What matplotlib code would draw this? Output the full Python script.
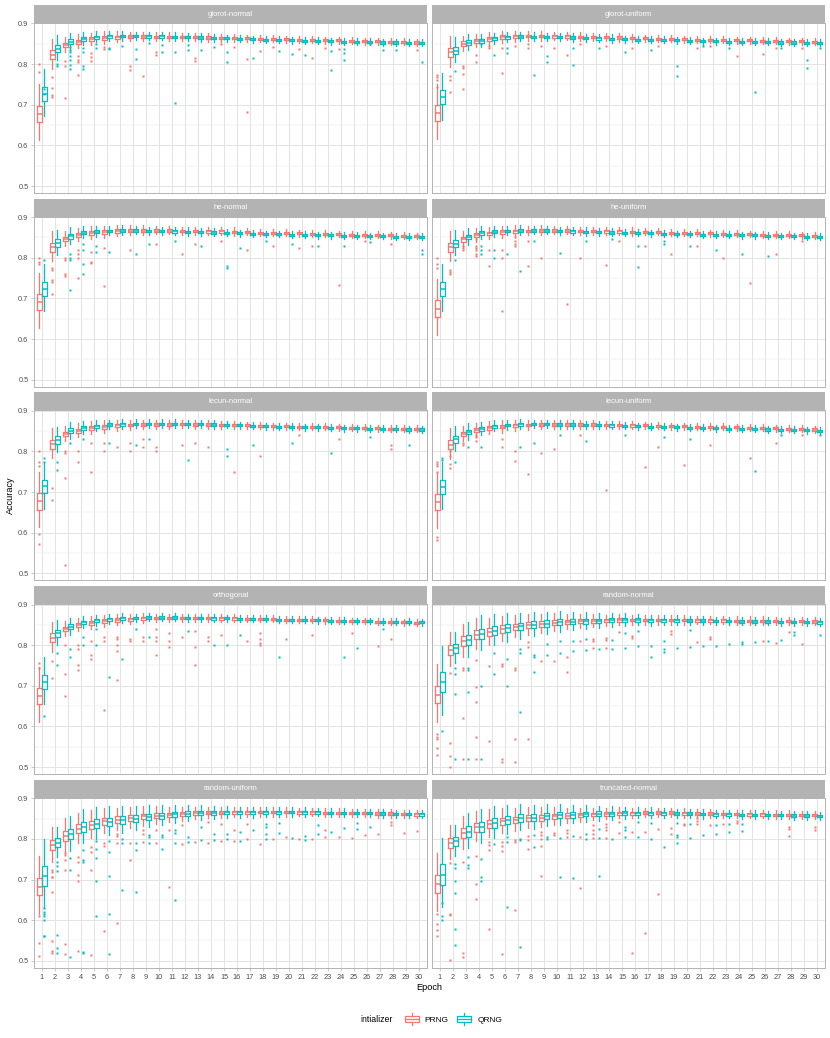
import matplotlib.pyplot as plt
from matplotlib.patches import Patch, Rectangle
from matplotlib.lines import Line2D
from matplotlib.legend_handler import HandlerBase

plt.rcParams['font.family'] = ['Liberation Sans', 'DejaVu Sans']

epochs = list(range(1, 31))
facets = ['glorot-normal', 'glorot-uniform', 'he-normal', 'he-uniform',
          'lecun-normal', 'lecun-uniform', 'orthogonal', 'random-normal',
          'random-uniform', 'truncated-normal']
groups = ['PRNG', 'QRNG']
colors = ['#F8766D', '#00BFC4']

# medians per epoch
glorot_normal_prng = [.678, .823, .847, .855, .861, .864, .866, .867, .867, .867, .867, .866, .866, .865, .864,
                      .864, .863, .862, .862, .861, .860, .859, .858, .858, .857, .856, .856, .855, .854, .853]
glorot_normal_qrng = [.727, .838, .855, .862, .866, .868, .869, .869, .868, .868, .867, .866, .865, .864, .863,
                      .862, .861, .860, .859, .858, .857, .857, .856, .855, .855, .854, .853, .853, .852, .852]
glorot_uniform_prng = [.679, .829, .850, .857, .862, .866, .868, .869, .869, .868, .868, .867, .866, .866, .865,
                       .864, .863, .862, .862, .861, .860, .860, .859, .858, .858, .857, .857, .856, .856, .855]
glorot_uniform_qrng = [.718, .833, .853, .857, .863, .866, .867, .867, .866, .866, .865, .864, .863, .862, .861,
                       .860, .859, .859, .858, .857, .856, .856, .855, .855, .854, .854, .853, .853, .852, .852]
he_normal_prng = [.691, .826, .846, .856, .861, .863, .866, .867, .867, .867, .867, .866, .866, .865, .865,
                  .864, .863, .862, .862, .861, .860, .859, .859, .858, .857, .857, .856, .855, .854, .853]
he_normal_qrng = [.724, .836, .853, .862, .864, .866, .867, .867, .866, .866, .865, .864, .863, .862, .861,
                  .860, .859, .858, .858, .857, .856, .855, .855, .854, .854, .853, .853, .852, .852, .851]
he_uniform_prng = [.675, .826, .845, .855, .860, .863, .865, .866, .867, .867, .867, .866, .866, .865, .865,
                   .864, .863, .863, .862, .861, .861, .860, .859, .859, .858, .857, .857, .856, .855, .854]
he_uniform_qrng = [.724, .835, .851, .861, .864, .866, .867, .867, .867, .866, .865, .864, .863, .862, .861,
                   .861, .860, .859, .858, .858, .857, .856, .856, .855, .855, .854, .853, .853, .852, .852]
lecun_normal_prng = [.677, .818, .843, .851, .858, .860, .864, .865, .866, .866, .866, .867, .866, .866, .865,
                     .865, .864, .863, .862, .862, .861, .860, .860, .859, .858, .858, .857, .856, .856, .855]
lecun_normal_qrng = [.714, .828, .851, .858, .862, .866, .867, .868, .868, .868, .868, .867, .867, .866, .865,
                     .864, .863, .862, .861, .860, .859, .859, .858, .857, .857, .856, .855, .855, .854, .854]
lecun_uniform_prng = [.675, .817, .843, .852, .858, .861, .864, .865, .866, .866, .866, .866, .866, .865, .865,
                      .864, .864, .863, .862, .862, .861, .860, .860, .859, .858, .858, .857, .856, .855, .854]
lecun_uniform_qrng = [.713, .830, .848, .856, .862, .865, .867, .867, .867, .866, .866, .865, .865, .864, .863,
                      .862, .861, .860, .859, .858, .858, .857, .856, .855, .855, .854, .853, .853, .852, .851]
orthogonal_prng = [.675, .818, .840, .850, .855, .859, .862, .864, .866, .867, .867, .867, .867, .867, .866,
                   .866, .865, .865, .864, .863, .863, .862, .861, .860, .859, .859, .858, .857, .856, .855]
orthogonal_qrng = [.709, .829, .845, .856, .861, .864, .866, .867, .868, .868, .868, .867, .867, .866, .866,
                   .865, .865, .864, .863, .863, .862, .861, .860, .860, .859, .859, .858, .857, .857, .856]
random_normal_prng = [.678, .788, .810, .826, .832, .840, .845, .849, .852, .855, .857, .859, .860, .861, .862,
                      .862, .862, .862, .862, .862, .861, .861, .861, .860, .860, .860, .859, .859, .859, .858]
random_normal_qrng = [.709, .792, .812, .828, .836, .842, .846, .850, .853, .856, .858, .859, .860, .861, .862,
                      .862, .861, .861, .861, .860, .860, .859, .859, .858, .858, .858, .857, .857, .857, .856]
random_uniform_prng = [.682, .784, .807, .825, .834, .843, .847, .851, .855, .857, .859, .861, .863, .864, .864,
                       .865, .865, .866, .866, .866, .865, .865, .864, .864, .863, .863, .862, .862, .861, .860]
random_uniform_qrng = [.709, .790, .811, .829, .837, .842, .846, .850, .854, .857, .860, .862, .864, .864, .865,
                       .865, .865, .865, .865, .866, .865, .865, .864, .864, .863, .863, .862, .861, .861, .860]
truncated_normal_prng = [.689, .790, .814, .829, .837, .843, .846, .851, .852, .855, .857, .858, .860, .861, .863,
                         .863, .864, .864, .864, .863, .862, .862, .861, .861, .860, .860, .859, .859, .858, .858]
truncated_normal_qrng = [.712, .794, .818, .829, .839, .846, .851, .852, .856, .858, .859, .861, .862, .862, .863,
                         .863, .863, .863, .862, .862, .861, .860, .860, .859, .859, .858, .858, .857, .857, .856]

# box heights (interquartile range) per epoch
fast_prng_iqr = [.040, .022, .011, .010, .009, .009, .008, .007, .007, .006, .006, .006, .006, .006, .006,
                 .006, .005, .005, .005, .005, .005, .005, .005, .005, .005, .005, .005, .005, .005, .005]
fast_qrng_iqr = [.034, .018, .012, .009, .008, .007, .007, .006, .006, .006, .006, .006, .006, .006, .005,
                 .005, .005, .005, .005, .005, .005, .005, .005, .005, .005, .005, .005, .005, .005, .005]
slow_prng_iqr = [.042, .025, .024, .022, .020, .018, .016, .015, .014, .013, .011, .010, .009, .008, .008,
                 .007, .007, .007, .007, .007, .006, .006, .006, .006, .006, .006, .006, .006, .006, .006]
slow_qrng_iqr = [.050, .022, .025, .025, .023, .021, .019, .017, .016, .015, .013, .012, .011, .010, .009,
                 .008, .008, .007, .007, .007, .007, .006, .006, .006, .006, .006, .006, .006, .006, .006]

# outliers as (epoch, accuracy)
glorot_normal_prng_out = [(1, .80), (1, .78), (2, .767), (2, .741), (2, .725), (2, .719), (3, .808), (3, .796),
                          (3, .717), (4, .82), (4, .81), (4, .806), (4, .774), (5, .826), (5, .818), (5, .808),
                          (6, .843), (6, .836), (8, .796), (8, .785), (9, .771), (10, .83), (10, .822), (13, .814),
                          (13, .808), (15, .85), (16, .841), (17, .812), (17, .683), (18, .832), (19, .843),
                          (21, .838), (22, .816), (23, .84), (24, .836), (30, .834)]
glorot_normal_qrng_out = [(1, .738), (1, .727), (2, .801), (2, .796), (3, .842), (3, .835), (3, .83), (3, .82),
                          (3, .81), (3, .798), (3, .789), (4, .84), (4, .83), (4, .795), (4, .789), (5, .85),
                          (5, .84), (6, .84), (6, .836), (7, .844), (8, .838), (8, .813), (9, .852), (10, .847),
                          (10, .83), (11, .83), (11, .705), (12, .847), (12, .835), (13, .835), (14, .843),
                          (15, .83), (15, .806), (17, .815), (19, .831), (20, .825), (21, .822), (23, .831),
                          (23, .785), (24, .836), (24, .826), (24, .81), (26, .85), (27, .834), (28, .834),
                          (30, .806)]
glorot_uniform_prng_out = [(1, .773), (1, .767), (1, .761), (1, .743), (2, .771), (2, .761), (2, .732),
                           (3, .794), (3, .79), (3, .776), (3, .738), (4, .822), (4, .806), (5, .845), (5, .84),
                           (6, .777), (6, .84), (7, .845), (8, .85), (8, .84), (9, .845), (10, .84), (11, .822),
                           (12, .85), (14, .845), (16, .84), (18, .845), (21, .84), (22, .845), (24, .82),
                           (26, .825), (27, .84), (29, .84)]
glorot_uniform_qrng_out = [(2, .784), (4, .85), (5, .822), (6, .826), (6, .84), (8, .772), (9, .821), (9, .806),
                           (11, .797), (11, .84), (13, .84), (15, .83), (17, .835), (19, .795), (19, .771),
                           (21, .845), (23, .84), (25, .732), (27, .84), (29, .79), (29, .81), (30, .84)]
he_normal_prng_out = [(1, .80), (1, .79), (1, .785), (2, .775), (2, .77), (2, .745), (2, .74), (2, .71),
                      (3, .80), (3, .795), (3, .76), (3, .755), (4, .82), (4, .81), (4, .80), (4, .75), (5, .815),
                      (5, .79), (5, .788), (6, .825), (6, .73), (8, .82), (10, .835), (12, .81), (13, .835),
                      (15, .84), (17, .82), (19, .83), (21, .825), (22, .83), (24, .733), (26, .84), (28, .835)]
he_normal_qrng_out = [(1, .795), (3, .81), (3, .80), (3, .795), (3, .72), (4, .835), (4, .82), (4, .785),
                      (4, .76), (5, .83), (5, .815), (6, .815), (8, .81), (9, .835), (11, .84), (13, .83),
                      (15, .78), (15, .775), (16, .825), (18, .84), (20, .835), (22, .83), (24, .828),
                      (26, .838), (30, .82), (30, .81)]
he_uniform_prng_out = [(1, .80), (1, .785), (1, .775), (2, .77), (2, .765), (2, .76), (3, .83), (3, .825),
                       (3, .82), (4, .845), (4, .83), (4, .825), (4, .82), (4, .81), (4, .805), (5, .82),
                       (5, .78), (6, .82), (6, .80), (6, .669), (7, .85), (7, .84), (7, .835), (7, .83),
                       (8, .84), (8, .78), (9, .80), (11, .687), (12, .80), (14, .781), (15, .84), (17, .83),
                       (19, .81), (21, .83), (23, .80), (25, .737), (27, .81), (29, .84)]
he_uniform_qrng_out = [(2, .794), (4, .83), (4, .82), (4, .81), (5, .82), (5, .80), (6, .81), (7, .767),
                       (8, .84), (10, .812), (12, .84), (14, .845), (16, .777), (16, .83), (18, .84), (18, .835),
                       (20, .83), (22, .82), (24, .81), (26, .805)]
lecun_normal_prng_out = [(1, .80), (1, .775), (1, .765), (1, .597), (1, .572), (2, .71), (2, .68), (3, .80),
                         (3, .795), (3, .735), (3, .52), (4, .802), (4, .775), (5, .82), (5, .75), (6, .82),
                         (6, .80), (7, .81), (8, .82), (8, .80), (9, .83), (9, .81), (10, .81), (10, .80),
                         (12, .815), (13, .82), (14, .81), (16, .75), (18, .79), (21, .84), (24, .83),
                         (28, .815), (28, .805)]
lecun_normal_qrng_out = [(1, .785), (1, .775), (2, .775), (2, .755), (3, .82), (4, .83), (6, .82), (8, .815),
                         (9, .83), (12, .78), (15, .805), (15, .79), (17, .815), (20, .82), (23, .795),
                         (26, .835), (29, .815)]
lecun_uniform_prng_out = [(1, .775), (1, .77), (1, .765), (1, .75), (1, .589), (1, .583), (2, .80), (2, .79),
                          (2, .77), (2, .76), (3, .82), (3, .815), (4, .84), (4, .835), (4, .825), (6, .83),
                          (6, .81), (7, .80), (7, .776), (8, .745), (9, .796), (10, .806), (12, .84), (14, .705),
                          (17, .761), (18, .81), (20, .767), (22, .815), (25, .784), (27, .82), (29, .84)]
lecun_uniform_qrng_out = [(1, .785), (1, .78), (2, .773), (3, .81), (4, .81), (7, .81), (8, .82), (10, .84),
                          (12, .825), (15, .84), (18, .835), (20, .83), (25, .753), (27, .84), (30, .84)]
orthogonal_prng_out = [(1, .755), (1, .745), (2, .76), (2, .72), (3, .80), (3, .73), (3, .675), (4, .80),
                       (4, .79), (4, .75), (4, .74), (5, .81), (5, .775), (5, .765), (6, .82), (6, .81), (6, .641),
                       (7, .82), (7, .815), (7, .80), (7, .785), (7, .715), (8, .815), (8, .81), (9, .82), (9, .81),
                       (10, .84), (10, .82), (10, .81), (10, .775), (11, .83), (11, .81), (11, .795), (12, .82),
                       (13, .835), (13, .795), (13, .75), (14, .82), (14, .81), (15, .825), (17, .81),
                       (18, .83), (18, .815), (18, .805), (18, .80), (20, .815), (22, .825), (25, .83),
                       (27, .797), (28, .814)]
orthogonal_qrng_out = [(1, .625), (2, .78), (2, .75), (3, .79), (3, .77), (4, .82), (4, .80), (5, .84), (5, .80),
                       (6, .722), (7, .765), (8, .84), (9, .82), (12, .835), (14, .80), (15, .80), (16, .825),
                       (19, .771), (24, .772), (25, .793), (27, .84)]
random_normal_prng_out = [(1, .581), (1, .575), (1, .568), (1, .548), (1, .531), (2, .732), (2, .56), (2, .528),
                          (2, .501), (3, .745), (3, .74), (3, .621), (3, .519), (4, .763), (4, .697), (4, .66),
                          (4, .575), (4, .519), (5, .748), (5, .564), (6, .754), (6, .748), (6, .521), (6, .513),
                          (7, .745), (7, .74), (7, .569), (7, .513), (8, .808), (8, .795), (8, .568), (9, .761),
                          (10, .761), (11, .772), (11, .733), (12, .809), (13, .816), (13, .809), (13, .793),
                          (14, .818), (14, .813), (14, .793), (15, .832), (16, .822), (16, .817), (19, .834),
                          (19, .828), (21, .808), (22, .82), (22, .816), (26, .809), (27, .805), (28, .832),
                          (29, .803)]
random_normal_qrng_out = [(1, .589), (2, .745), (2, .73), (2, .679), (2, .519), (3, .745), (3, .738), (3, .685),
                          (3, .519), (4, .70), (4, .519), (5, .78), (5, .73), (6, .765), (6, .70), (7, .791),
                          (7, .78), (7, .636), (8, .777), (8, .772), (8, .734), (9, .803), (9, .777), (10, .809),
                          (10, .78), (11, .809), (11, .785), (12, .816), (12, .787), (13, .79), (14, .813),
                          (14, .79), (15, .83), (15, .793), (16, .835), (16, .797), (17, .797), (17, .771),
                          (18, .81), (18, .79), (18, .783), (19, .793), (20, .838), (20, .795), (21, .797),
                          (22, .798), (23, .802), (24, .808), (24, .804), (25, .808), (26, .81), (27, .812),
                          (28, .832), (28, .824), (30, .826)]
random_uniform_prng_out = [(1, .609), (1, .543), (1, .513), (2, .724), (2, .719), (2, .707), (2, .705), (2, .67),
                           (2, .549), (2, .523), (2, .52), (3, .765), (3, .76), (3, .747), (3, .724), (3, .541),
                           (3, .516), (4, .756), (4, .743), (4, .712), (4, .697), (4, .525), (5, .78), (5, .768),
                           (5, .723), (5, .515), (6, .79), (6, .782), (6, .574), (7, .813), (7, .806), (7, .79),
                           (7, .594), (8, .79), (8, .747), (9, .821), (9, .813), (9, .792), (10, .821), (10, .79),
                           (11, .821), (11, .682), (12, .835), (12, .788), (13, .792), (14, .841), (14, .79),
                           (15, .837), (15, .795), (16, .822), (16, .795), (17, .837), (17, .799), (18, .788),
                           (19, .80), (20, .805), (21, .80), (22, .80), (23, .822), (23, .805), (24, .805),
                           (25, .803), (26, .809), (27, .813), (28, .841), (28, .833), (29, .815), (30, .82)]
random_uniform_qrng_out = [(1, .63), (1, .62), (1, .615), (1, .61), (1, .60), (1, .562), (1, .56), (2, .743),
                           (2, .733), (2, .721), (2, .564), (2, .531), (2, .52), (3, .754), (3, .723), (3, .51),
                           (4, .772), (4, .747), (4, .743), (4, .521), (4, .519), (5, .794), (5, .776), (5, .753),
                           (5, .697), (5, .61), (6, .794), (6, .768), (6, .709), (6, .615), (6, .517), (7, .80),
                           (7, .79), (7, .674), (8, .79), (8, .772), (8, .67), (9, .81), (9, .805), (9, .79),
                           (10, .81), (10, .805), (10, .776), (11, .821), (11, .814), (11, .79), (11, .649),
                           (12, .805), (12, .792), (13, .829), (13, .796), (14, .811), (14, .798), (15, .811),
                           (15, .80), (16, .816), (16, .795), (17, .821), (18, .837), (18, .829), (18, .811),
                           (18, .80), (19, .839), (19, .814), (20, .802), (21, .808), (21, .796), (22, .835),
                           (22, .813), (23, .817), (24, .827), (25, .839), (25, .825), (26, .828)]
truncated_normal_prng_out = [(1, .614), (1, .59), (1, .576), (1, .561), (2, .741), (2, .615), (2, .613),
                             (2, .502), (3, .743), (3, .52), (3, .509), (4, .757), (4, .69), (4, .653), (5, .792),
                             (5, .784), (5, .773), (5, .578), (6, .792), (6, .782), (6, .769), (6, .517), (7, .796),
                             (7, .792), (7, .625), (8, .806), (8, .798), (8, .776), (9, .817), (9, .809), (9, .80),
                             (9, .782), (9, .708), (10, .814), (10, .809), (11, .822), (11, .814), (11, .804),
                             (12, .804), (12, .678), (13, .835), (13, .821), (13, .811), (13, .803), (14, .837),
                             (14, .829), (14, .821), (14, .803), (15, .841), (15, .814), (16, .817), (16, .519),
                             (17, .817), (17, .569), (18, .825), (18, .664), (19, .827), (19, .811), (20, .837),
                             (20, .833), (21, .851), (21, .845), (21, .837), (22, .835), (23, .837), (24, .845),
                             (24, .839), (28, .829), (28, .825), (28, .806), (30, .829), (30, .822)]
truncated_normal_qrng_out = [(1, .643), (1, .609), (1, .60), (2, .739), (2, .729), (2, .697), (2, .666),
                             (2, .578), (2, .538), (3, .755), (3, .735), (3, .729), (4, .75), (4, .706), (4, .697),
                             (5, .788), (6, .804), (6, .792), (6, .633), (7, .80), (7, .796), (7, .533), (8, .81),
                             (8, .78), (9, .804), (9, .80), (10, .803), (10, .706), (11, .807), (11, .704),
                             (12, .811), (12, .80), (13, .825), (13, .803), (13, .709), (14, .80), (15, .829),
                             (15, .822), (15, .804), (16, .841), (16, .804), (17, .839), (17, .799), (18, .78),
                             (19, .839), (19, .809), (19, .804), (19, .79), (20, .837), (20, .803), (21, .809),
                             (22, .835), (22, .813), (23, .837), (23, .817), (24, .837), (24, .819)]

prng_medians = [glorot_normal_prng, glorot_uniform_prng, he_normal_prng, he_uniform_prng, lecun_normal_prng,
                lecun_uniform_prng, orthogonal_prng, random_normal_prng, random_uniform_prng, truncated_normal_prng]
qrng_medians = [glorot_normal_qrng, glorot_uniform_qrng, he_normal_qrng, he_uniform_qrng, lecun_normal_qrng,
                lecun_uniform_qrng, orthogonal_qrng, random_normal_qrng, random_uniform_qrng, truncated_normal_qrng]
prng_outliers = [glorot_normal_prng_out, glorot_uniform_prng_out, he_normal_prng_out, he_uniform_prng_out,
                 lecun_normal_prng_out, lecun_uniform_prng_out, orthogonal_prng_out, random_normal_prng_out,
                 random_uniform_prng_out, truncated_normal_prng_out]
qrng_outliers = [glorot_normal_qrng_out, glorot_uniform_qrng_out, he_normal_qrng_out, he_uniform_qrng_out,
                 lecun_normal_qrng_out, lecun_uniform_qrng_out, orthogonal_qrng_out, random_normal_qrng_out,
                 random_uniform_qrng_out, truncated_normal_qrng_out]
slow_facets = ['random-normal', 'random-uniform', 'truncated-normal']


def box_stats(med, iqr, out):
    stats = []
    for e, m, w in zip(epochs, med, iqr):
        q1, q3 = m - w / 2, m + w / 2
        stats.append(dict(med=m, q1=q1, q3=q3, whislo=q1 - 1.1 * w, whishi=q3 + 1.3 * w,
                          fliers=[v for ep, v in out if ep == e]))
    return stats


class BoxKey(HandlerBase):
    def create_artists(self, legend, orig_handle, xd, yd, width, height, fontsize, trans):
        c = orig_handle.get_edgecolor()
        x0, y0 = -xd, -yd
        box = Rectangle((x0 + 0.05 * width, y0 + 0.15 * height), 0.9 * width, 0.7 * height,
                        fill=False, ec=c, lw=0.9, transform=trans)
        mid = Line2D([x0 + 0.05 * width, x0 + 0.95 * width], [y0 + 0.5 * height] * 2, color=c, lw=0.9,
                     transform=trans)
        w1 = Line2D([x0 + 0.5 * width] * 2, [y0 - 0.1 * height, y0 + 0.15 * height], color=c, lw=0.9,
                    transform=trans)
        w2 = Line2D([x0 + 0.5 * width] * 2, [y0 + 0.85 * height, y0 + 1.1 * height], color=c, lw=0.9,
                    transform=trans)
        return [box, mid, w1, w2]


W, H = 830, 1038
fig = plt.figure(figsize=(W / 100, H / 100), dpi=100)

for i, name in enumerate(facets):
    r, c = divmod(i, 2)
    left = 34 if c == 0 else 432
    top = 23 + r * 193.7
    ax = fig.add_axes([left / W, 1 - (top + 170) / H, 393 / W, 170 / H])
    strip = fig.add_axes([left / W, 1 - top / H, 393 / W, 18 / H])
    strip.set_facecolor('#B3B3B3')
    strip.set_xticks([])
    strip.set_yticks([])
    for s in strip.spines.values():
        s.set_visible(False)
    strip.text(0.5, 0.5, name, color='white', fontsize=5.5, ha='center', va='center',
               transform=strip.transAxes)

    slow = name in slow_facets
    iqrs = [slow_prng_iqr, slow_qrng_iqr] if slow else [fast_prng_iqr, fast_qrng_iqr]
    meds = [prng_medians[i], qrng_medians[i]]
    outs = [prng_outliers[i], qrng_outliers[i]]
    for g, off in enumerate([-0.2, 0.2]):
        col = colors[g]
        ax.bxp(box_stats(meds[g], iqrs[g], outs[g]), positions=[e + off for e in epochs], widths=0.38,
               showcaps=False, manage_ticks=False,
               boxprops=dict(color=col, lw=0.9), whiskerprops=dict(color=col, lw=0.9),
               medianprops=dict(color=col, lw=1.1),
               flierprops=dict(marker='s', ms=1.5, mfc=col, mec='none'))

    ax.set_xlim(0.4, 30.6)
    ax.set_ylim(0.4828, 0.901)
    ax.set_xticks(epochs)
    ax.set_yticks([0.5, 0.6, 0.7, 0.8, 0.9])
    ax.set_yticks([0.55, 0.65, 0.75, 0.85], minor=True)
    ax.grid(True, which='major', color='#DEDEDE', lw=0.6)
    ax.grid(True, which='minor', axis='y', color='#E8E8E8', lw=0.35)
    ax.set_axisbelow(True)
    for s in ax.spines.values():
        s.set_color('#B3B3B3')
        s.set_linewidth(0.7)
    ax.tick_params(which='both', length=0, labelsize=5.3, labelcolor='#4D4D4D')
    ax.tick_params(axis='x', pad=2.5)
    ax.tick_params(axis='y', pad=2)
    if c == 0:
        ax.tick_params(axis='y', length=2, width=0.5, color='#B3B3B3')
        ax.set_yticklabels(['0.5', '0.6', '0.7', '0.8', '0.9'])
    else:
        ax.set_yticklabels([])
    if r == 4:
        ax.tick_params(axis='x', length=2, width=0.5, color='#B3B3B3')
        ax.set_xticklabels([str(e) for e in epochs])
    else:
        ax.set_xticklabels([])

fig.text(10 / W, 1 - 495 / H, 'Accuracy', rotation=90, fontsize=6.6, ha='center', va='center')
fig.text(429 / W, 1 - 988 / H, 'Epoch', fontsize=6.6, ha='center', va='center')
fig.text(360 / W, 1 - 1019 / H, 'intializer', fontsize=6.3, ha='left', va='center')

handles = [Patch(facecolor='none', edgecolor=colors[g], label=groups[g]) for g in range(2)]
fig.legend(handles=handles, handler_map={Patch: BoxKey()}, ncol=2, loc='center',
           bbox_to_anchor=(453 / W, 1 - 1019 / H), frameon=False, fontsize=6,
           handlelength=1.9, handleheight=1.4, handletextpad=0.6, columnspacing=0.9)

fig.savefig('out.png', dpi=100)
